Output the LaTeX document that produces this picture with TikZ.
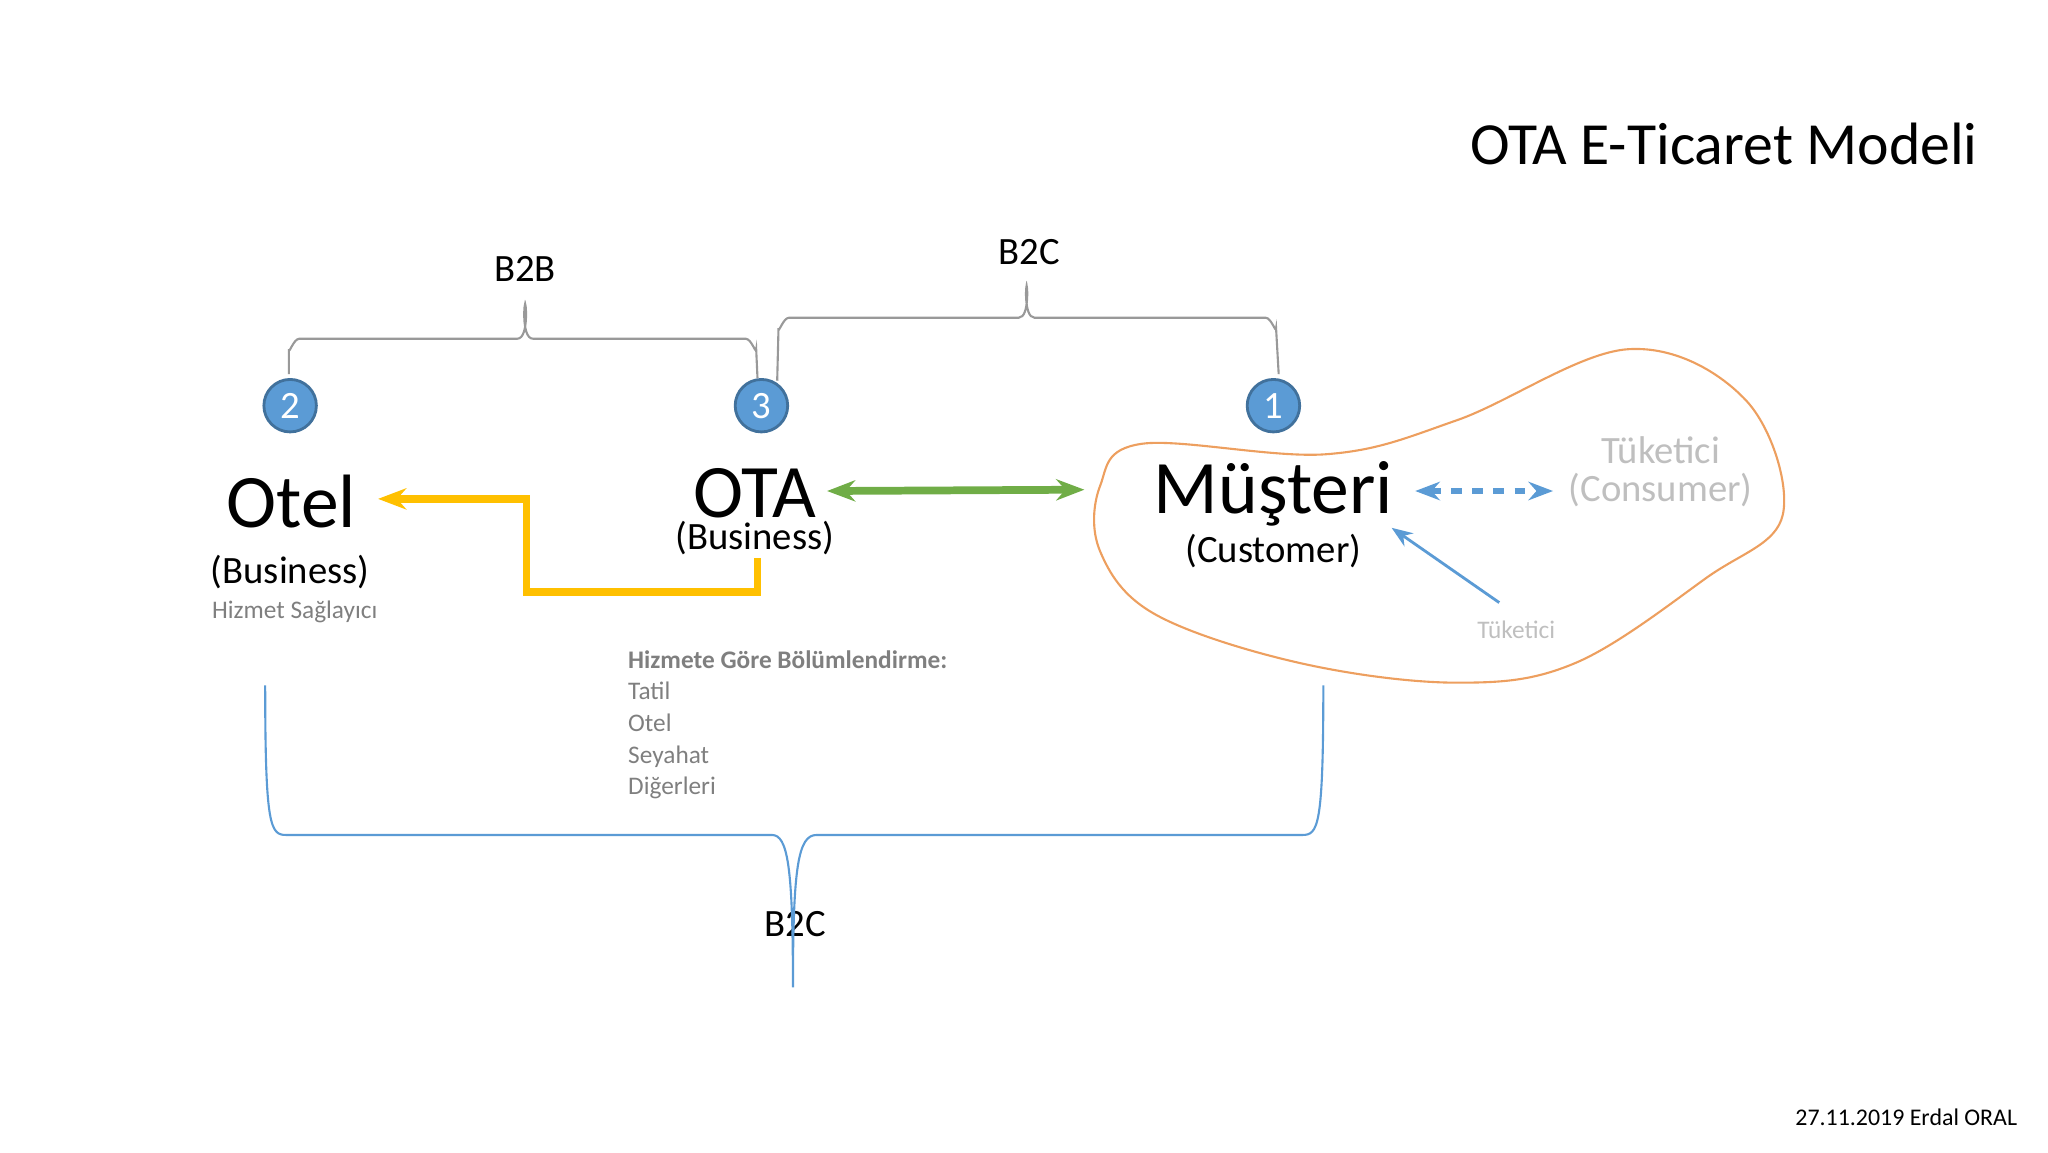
\documentclass[tikz,border=0pt]{standalone}
\usepackage{fontspec}
\setmainfont{Carlito}
\usetikzlibrary{arrows.meta}
\definecolor{cblue}{HTML}{5B9BD5}
\definecolor{cdblue}{HTML}{41719C}
\definecolor{corange}{HTML}{ED9F5F}
\definecolor{cgreen}{HTML}{70AD47}
\definecolor{cyellow}{HTML}{FFC000}
\definecolor{cgray}{HTML}{7F7F7F}
\definecolor{clgray}{HTML}{BFBFBF}
\begin{document}
\begin{tikzpicture}[x=0.013128cm,y=-0.013128cm,
  num/.style={circle,fill=cblue,draw=cdblue,line width=0.8pt,minimum size=40*0.013128cm,inner sep=0pt,text=white,font=\fontsize{11}{11}\selectfont},
  big/.style={font=\fontsize{21.5}{21.5}\selectfont,inner sep=0pt},
  mid/.style={font=\fontsize{11}{11}\selectfont,inner sep=0pt},
  small/.style={font=\fontsize{7.2}{9}\selectfont,text=cgray,inner sep=0pt},
  brace/.style={draw=cgray!80,line width=0.6pt}]
\useasboundingbox (0,0) rectangle (1560,877.5);
% title and date
\node[anchor=east,font=\fontsize{17}{17}\selectfont,inner sep=0pt] (title) at (1507,110) {OTA E-Ticaret Modeli};
\node[anchor=east,font=\fontsize{6.8}{6.8}\selectfont,inner sep=0pt] (date) at (1537,851) {27.11.2019 Erdal ORAL};
% numbered circles
\node[num] (n2) at (221,309) {2};
\node[num] (n3) at (580,309) {3};
\node[num] (n1) at (970,309) {1};
% main labels
\node[big] (otel) at (222,382) {Otel};
\node[mid] (otelb) at (221,436) {(Business)};
\node[small,anchor=west] (hs) at (161,466) {Hizmet Sağlayıcı};
\node[big] (ota) at (575,376) {OTA};
\node[mid] (otab) at (575,410) {(Business)};
\node[big] (mus) at (970,376) {Müşteri};
\node[mid] (musc) at (970,420) {(Customer)};
\node[mid,text=clgray] (tuk) at (1265,343) {Tüketici};
\node[mid,text=clgray] (cons) at (1265,373) {(Consumer)};
\node[small,text=clgray] (tuk2) at (1155,480) {Tüketici};
\node[mid] (b2b) at (400,205) {B2B};
\node[mid] (b2c) at (784,192) {B2C};
\node[mid] (b2cb) at (606,704) {B2C};
\node[small,anchor=north west,align=left] (seg) at (478,495)
  {\textbf{Hizmete Göre Bölümlendirme:}\\Tatil\\Otel\\Seyahat\\Diğerleri};
% braces
\draw[brace] (220,285) -- (220,266) to[out=-90,in=180] (228,258) -- (394,258)
  to[out=0,in=90] (400,234) to[out=90,in=180] (406,258) -- (568,258) to[out=0,in=-90] (576,266) -- (577,288);
\draw[brace] (592,290) -- (593,250) to[out=-90,in=180] (601,242) -- (776,242)
  to[out=0,in=90] (782,220) to[out=90,in=180] (788,242) -- (964,242) to[out=0,in=-90] (972,250) -- (974,285);
\draw[cblue,line width=0.6pt] (202,522) .. controls (202,630) and (206,636) .. (218,636) -- (588,636)
  .. controls (600,636) and (604,660) .. (604,752) .. controls (604,660) and (608,636) .. (622,636)
  -- (992,636) .. controls (1004,636) and (1008,630) .. (1008,522);
% orange blob
\draw[corange,line width=0.6pt] plot[smooth cycle,tension=0.6] coordinates
  {(870,338) (1010,346) (1110,320) (1240,266) (1330,305) (1358,392) (1300,440) (1200,505) (1110,520) (990,505) (880,468) (838,420) (838,370)};
% connectors
\coordinate (ys) at (577,425);
\coordinate (ye) at (288,380);
\coordinate (ge) at (826,373);
\coordinate (ds) at (1078,374);
\coordinate (de) at (1183,374);
\coordinate (ts) at (1142,459);
\coordinate (te) at (1060,402);
\draw[cyellow,line width=2.2pt,-{Stealth[length=8pt]}] (ys) |- (401,451) |- (ye);
\draw[cgreen,line width=2.2pt,{Stealth[length=8pt]}-{Stealth[length=8pt]}] (630,374) -- (ge);
\draw[cblue,line width=1.6pt,dashed,{Stealth[length=7pt]}-{Stealth[length=7pt]}] (ds) -- (de);
\draw[cblue,line width=0.8pt,-{Stealth[length=6pt]}] (ts) -- (te);
\end{tikzpicture}
\end{document}
